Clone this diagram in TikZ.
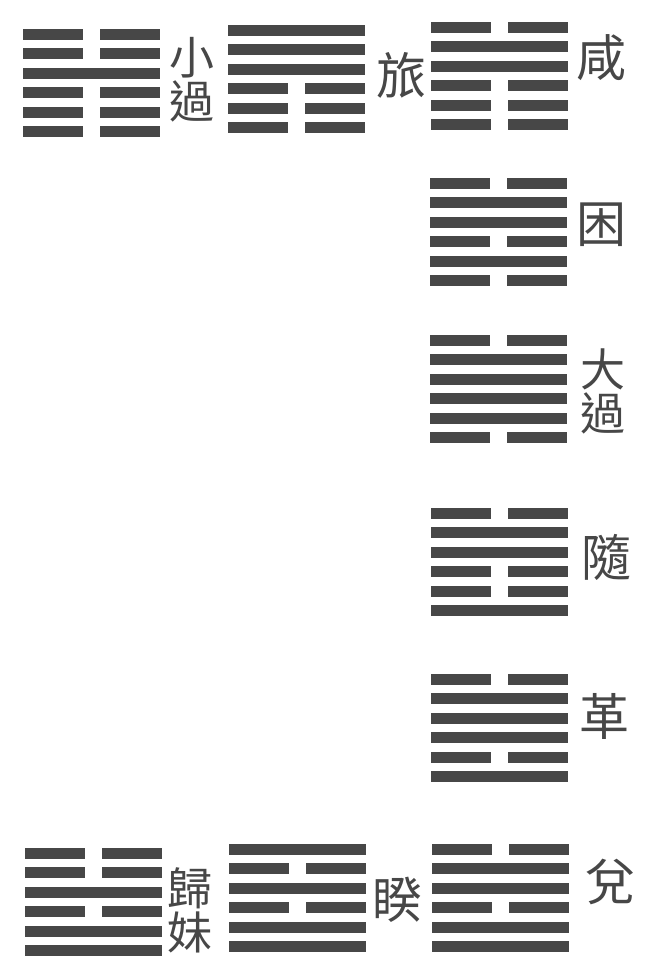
\documentclass[tikz,border=0pt]{standalone}
\usepackage{fontspec}
\usepackage{xcolor}
\usepackage{tikz}
\usetikzlibrary{calc}
\newfontfamily\cjk{Noto Sans CJK TC}
\colorlet{ink}{black!72}
\colorlet{brush}{black!72}
\tikzstyle{yao}=[line width=11pt,draw=ink]
\tikzstyle{gua}=[inner sep=0pt,text=brush,font=\cjk\fontsize{50}{50}\selectfont]
\tikzstyle{guatwo}=[gua,align=center,font=\cjk\fontsize{45}{44}\selectfont]
% one hexagram: name, top-left end of the upper line, lines from top to bottom
\newcommand\hexa[3]{%
  \coordinate (#1) at (#2);
  \foreach \v [count=\i] in {#3} {
    \ifnum\v=1
      \draw[yao] ($(#1)+(0,\i*19.5-19.5)$) -- ++(137,0);
    \else
      \draw[yao] ($(#1)+(0,\i*19.5-19.5)$) -- ++(60,0) ++(17,0) -- ++(60,0);
    \fi
  }%
}

\begin{document}
\begin{tikzpicture}[x=1pt,y=-1pt]
	\useasboundingbox[fill=white] (0,0) rectangle (645,980);
	% top row
	\hexa{xiaoguo}{23,34}{0,0,1,0,0,0}
	\hexa{lu}{228,30}{1,1,1,0,0,0}
	\hexa{xian}{431,27}{0,1,1,0,0,0}
	% right column
	\hexa{kun}{430,183}{0,1,1,0,1,0}
	\hexa{daguo}{430,340}{0,1,1,1,1,0}
	\hexa{sui}{431,513}{0,1,1,0,0,1}
	\hexa{ge}{431,679}{0,1,1,1,0,1}
	% bottom row
	\hexa{guimei}{25,853}{0,0,1,0,1,1}
	\hexa{kui}{229,849}{1,0,1,0,1,1}
	\hexa{dui}{432,849}{0,1,1,0,1,1}
	% names
	\node[guatwo] (l-xiaoguo) at (192,80)  {小\\過};
	\node[gua]    (l-lu)      at (401,75)  {旅};
	\node[gua]    (l-xian)    at (601,58)  {咸};
	\node[gua]    (l-kun)     at (601,225) {困};
	\node[guatwo] (l-daguo)   at (603,391) {大\\過};
	\node[gua]    (l-sui)     at (606,557) {隨};
	\node[gua]    (l-ge)      at (604,716) {革};
	\node[guatwo] (l-guimei)  at (190,910) {歸\\妹};
	\node[gua]    (l-kui)     at (397,900) {睽};
	\node[gua]    (l-dui)     at (610,882) {兌};
\end{tikzpicture}
\end{document}
